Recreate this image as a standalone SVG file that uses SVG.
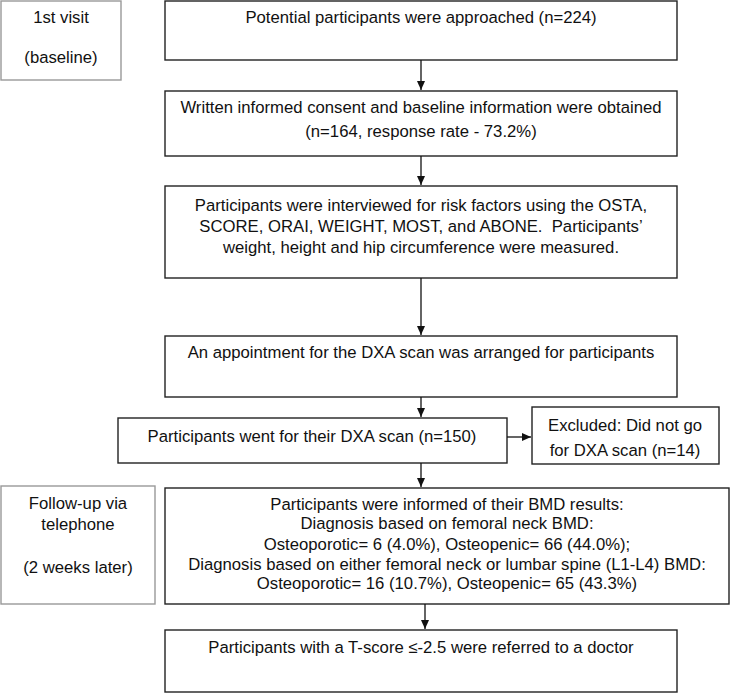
<svg xmlns="http://www.w3.org/2000/svg" width="731" height="693" viewBox="0 0 731 693">
<defs>
<marker id="ah" markerWidth="10" markerHeight="10" refX="9" refY="5" orient="auto" markerUnits="userSpaceOnUse">
<path d="M0,1 L9,5 L0,9 Z" fill="#111"/>
</marker>
<style>
.box{fill:#fff;stroke:#222;stroke-width:1.4}
.side{fill:#fff;stroke:#999;stroke-width:1.4}
text{font-family:"Liberation Sans",Arial,sans-serif;font-size:16.7px;fill:#111;text-anchor:middle}
.conn line{stroke:#111;stroke-width:1.3;marker-end:url(#ah)}
</style>
</defs>
<rect width="731" height="693" fill="#fff"/>
<g id="n_visit1">
<rect class="side" x="1" y="1" width="120" height="79"/>
<text x="61" y="23">1st visit</text>
<text x="61" y="63">(baseline)</text>
</g>
<g id="n_approached">
<rect class="box" x="165" y="1" width="512" height="59"/>
<text x="421" y="23">Potential participants were approached (n=224)</text>
</g>
<g id="n_consent">
<rect class="box" x="165" y="91" width="512" height="65"/>
<text x="421" y="113">Written informed consent and baseline information were obtained</text>
<text x="421" y="137">(n=164, response rate - 73.2%)</text>
</g>
<g id="n_interview">
<rect class="box" x="165" y="186" width="512" height="92"/>
<text x="421" y="211">Participants were interviewed for risk factors using the OSTA,</text>
<text x="421" y="232" xml:space="preserve">SCORE, ORAI, WEIGHT, MOST, and ABONE.  Participants’</text>
<text x="421" y="253">weight, height and hip circumference were measured.</text>
</g>
<g id="n_appointment">
<rect class="box" x="165" y="336" width="512" height="61"/>
<text x="421" y="358">An appointment for the DXA scan was arranged for participants</text>
</g>
<g id="n_dxa">
<rect class="box" x="118" y="418" width="389" height="45"/>
<text x="312" y="442">Participants went for their DXA scan (n=150)</text>
</g>
<g id="n_excluded">
<rect class="box" x="532" y="407" width="187" height="57"/>
<text x="625" y="431">Excluded: Did not go</text>
<text x="625" y="456">for DXA scan (n=14)</text>
</g>
<g id="n_followup">
<rect class="side" x="1" y="486" width="154" height="118"/>
<text x="78" y="509">Follow-up via</text>
<text x="78" y="530">telephone</text>
<text x="78" y="573">(2 weeks later)</text>
</g>
<g id="n_bmd">
<rect class="box" x="165" y="488" width="564" height="116"/>
<text x="447" y="510">Participants were informed of their BMD results:</text>
<text x="447" y="529">Diagnosis based on femoral neck BMD:</text>
<text x="447" y="550">Osteoporotic= 6 (4.0%), Osteopenic= 66 (44.0%);</text>
<text x="447" y="570">Diagnosis based on either femoral neck or lumbar spine (L1-L4) BMD:</text>
<text x="447" y="589">Osteoporotic= 16 (10.7%), Osteopenic= 65 (43.3%)</text>
</g>
<g id="n_referred">
<rect class="box" x="165" y="630" width="512" height="62"/>
<text x="421" y="653">Participants with a T-score ≤-2.5 were referred to a doctor</text>
</g>
<g id="connectors" class="conn">
<line x1="421" y1="60" x2="421" y2="90"/>
<line x1="421" y1="156" x2="421" y2="185"/>
<line x1="421" y1="278" x2="421" y2="335"/>
<line x1="421" y1="397" x2="421" y2="417"/>
<line x1="507" y1="437" x2="531" y2="437"/>
<line x1="421" y1="463" x2="421" y2="487"/>
<line x1="425" y1="604" x2="425" y2="629"/>
</g>
</svg>
